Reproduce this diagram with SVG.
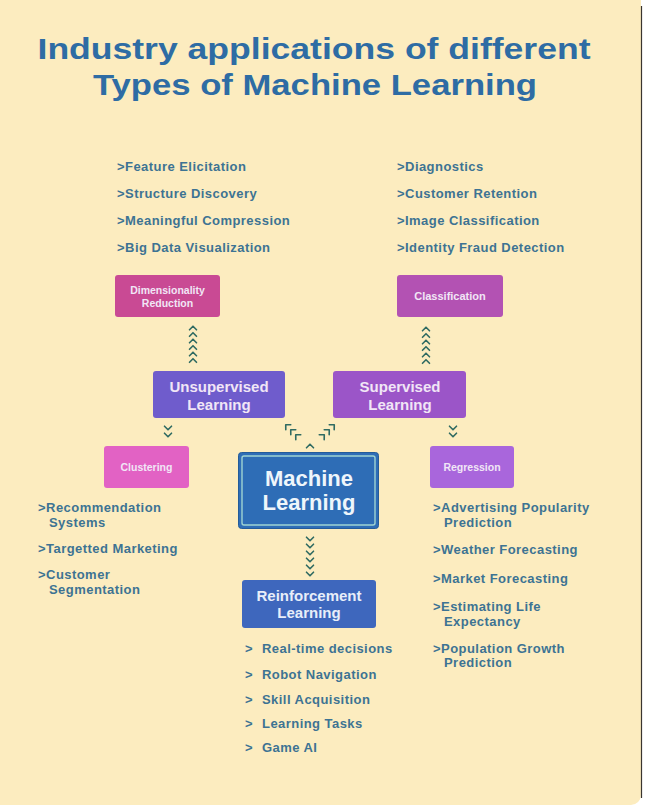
<svg xmlns="http://www.w3.org/2000/svg" xmlns:xlink="http://www.w3.org/1999/xlink" width="646" height="806" viewBox="0 0 646 806">
<style>
.title{font-family:"Liberation Sans",Arial,sans-serif;font-weight:bold;font-size:30px;fill:#2e6ca4;text-anchor:middle}
.li{font-family:"Liberation Sans",Arial,sans-serif;font-weight:bold;font-size:13px;letter-spacing:0.45px;fill:#3d7393}
.bt{font-family:"Liberation Sans",Arial,sans-serif;font-weight:bold;fill:#f1e6f6;text-anchor:middle}
.ch{fill:none;stroke:#2f6b62;stroke-width:1.6;stroke-linecap:round;stroke-linejoin:round}
</style>
<defs>
<path id="up" class="ch" d="M-3.5,1.8 L0,-1.8 L3.5,1.8"/>
<path id="dn" class="ch" d="M-3.5,-1.8 L0,1.8 L3.5,-1.8"/>
</defs>
<rect x="0" y="0" width="646" height="806" fill="#ffffff"/>
<rect x="-10" y="-10" width="651" height="815" rx="10" fill="#fcecbf"/>
<line x1="641.5" y1="6" x2="641.5" y2="798" stroke="#3a3530" stroke-width="1.2"/>

<g id="title">
<text class="title" x="314" y="59" textLength="553" lengthAdjust="spacingAndGlyphs">Industry applications of different</text>
<text class="title" x="315" y="95" textLength="444" lengthAdjust="spacingAndGlyphs">Types of Machine Learning</text>
</g>

<g id="list-dimensionality">
<text class="li" x="117" y="171">&gt;Feature Elicitation</text>
<text class="li" x="117" y="198">&gt;Structure Discovery</text>
<text class="li" x="117" y="225">&gt;Meaningful Compression</text>
<text class="li" x="117" y="252">&gt;Big Data Visualization</text>
</g>
<g id="list-classification">
<text class="li" x="397" y="171">&gt;Diagnostics</text>
<text class="li" x="397" y="198">&gt;Customer Retention</text>
<text class="li" x="397" y="225">&gt;Image Classification</text>
<text class="li" x="397" y="252">&gt;Identity Fraud Detection</text>
</g>

<g id="connectors">
<use xlink:href="#up" x="193" y="328"/>
<use xlink:href="#up" x="193" y="334.5"/>
<use xlink:href="#up" x="193" y="341"/>
<use xlink:href="#up" x="193" y="347.5"/>
<use xlink:href="#up" x="193" y="354"/>
<use xlink:href="#up" x="193" y="360.5"/>
<use xlink:href="#up" x="426" y="329"/>
<use xlink:href="#up" x="426" y="335.5"/>
<use xlink:href="#up" x="426" y="342"/>
<use xlink:href="#up" x="426" y="348.5"/>
<use xlink:href="#up" x="426" y="355"/>
<use xlink:href="#up" x="426" y="361.5"/>
<use xlink:href="#dn" x="168" y="428"/>
<use xlink:href="#dn" x="168" y="435"/>
<use xlink:href="#dn" x="453" y="428"/>
<use xlink:href="#dn" x="453" y="435"/>
<use xlink:href="#up" transform="translate(287,426) rotate(-45)"/>
<use xlink:href="#up" transform="translate(292,431) rotate(-45)"/>
<use xlink:href="#up" transform="translate(297,436) rotate(-45)"/>
<use xlink:href="#up" transform="translate(333,426) rotate(45)"/>
<use xlink:href="#up" transform="translate(328,431) rotate(45)"/>
<use xlink:href="#up" transform="translate(323,436) rotate(45)"/>
<use xlink:href="#up" x="310" y="446"/>
<use xlink:href="#dn" x="310" y="539"/>
<use xlink:href="#dn" x="310" y="546"/>
<use xlink:href="#dn" x="310" y="553"/>
<use xlink:href="#dn" x="310" y="560"/>
<use xlink:href="#dn" x="310" y="567"/>
<use xlink:href="#dn" x="310" y="574"/>
</g>

<g id="dimensionality-reduction">
<rect x="115" y="275" width="105" height="42" rx="3" fill="#c94a94"/>
<text class="bt" font-size="10.5" x="167.5" y="294">Dimensionality</text>
<text class="bt" font-size="10.5" x="167.5" y="307">Reduction</text>
</g>
<g id="classification">
<rect x="397" y="275" width="106" height="42" rx="3" fill="#b352b3"/>
<text class="bt" font-size="11" x="450" y="300">Classification</text>
</g>
<g id="unsupervised-learning">
<rect x="153" y="371" width="132" height="47" rx="3" fill="#6f5ccc"/>
<text class="bt" font-size="15" x="219" y="392">Unsupervised</text>
<text class="bt" font-size="15" x="219" y="410">Learning</text>
</g>
<g id="supervised-learning">
<rect x="333" y="371" width="133" height="47" rx="3" fill="#9b55c8"/>
<text class="bt" font-size="15" x="400" y="392">Supervised</text>
<text class="bt" font-size="15" x="400" y="410">Learning</text>
</g>
<g id="clustering">
<rect x="104" y="446" width="85" height="42" rx="3" fill="#e262c4"/>
<text class="bt" font-size="10.5" x="146.5" y="471">Clustering</text>
</g>
<g id="regression">
<rect x="430" y="446" width="84" height="42" rx="3" fill="#a966dc"/>
<text class="bt" font-size="10.5" x="472" y="471">Regression</text>
</g>
<g id="machine-learning">
<rect x="238.5" y="452.5" width="140" height="76" rx="3" fill="#2e6db6" stroke="#245c99" stroke-width="1"/>
<rect x="242" y="456" width="133" height="69" rx="2" fill="none" stroke="#9fd3d2" stroke-width="1.4"/>
<text class="bt" font-size="22" x="309" y="486" style="fill:#eef6fb">Machine</text>
<text class="bt" font-size="22" x="309" y="510" style="fill:#eef6fb">Learning</text>
</g>
<g id="reinforcement-learning">
<rect x="242" y="580" width="134" height="48" rx="3" fill="#3e67bd"/>
<text class="bt" font-size="15" x="309" y="601" style="fill:#e8eef9">Reinforcement</text>
<text class="bt" font-size="15" x="309" y="618" style="fill:#e8eef9">Learning</text>
</g>

<g id="list-clustering">
<text class="li" x="38" y="512">&gt;Recommendation</text>
<text class="li" x="49" y="527">Systems</text>
<text class="li" x="38" y="553">&gt;Targetted Marketing</text>
<text class="li" x="38" y="579">&gt;Customer</text>
<text class="li" x="49" y="594">Segmentation</text>
</g>
<g id="list-regression">
<text class="li" x="433" y="512">&gt;Advertising Popularity</text>
<text class="li" x="444" y="527">Prediction</text>
<text class="li" x="433" y="554">&gt;Weather Forecasting</text>
<text class="li" x="433" y="583">&gt;Market Forecasting</text>
<text class="li" x="433" y="611">&gt;Estimating Life</text>
<text class="li" x="444" y="626">Expectancy</text>
<text class="li" x="433" y="653">&gt;Population Growth</text>
<text class="li" x="444" y="667">Prediction</text>
</g>
<g id="list-reinforcement">
<text class="li" x="245" y="653">&gt;<tspan x="262">Real-time decisions</tspan></text>
<text class="li" x="245" y="679">&gt;<tspan x="262">Robot Navigation</tspan></text>
<text class="li" x="245" y="704">&gt;<tspan x="262">Skill Acquisition</tspan></text>
<text class="li" x="245" y="728">&gt;<tspan x="262">Learning Tasks</tspan></text>
<text class="li" x="245" y="752">&gt;<tspan x="262">Game AI</tspan></text>
</g>
</svg>
